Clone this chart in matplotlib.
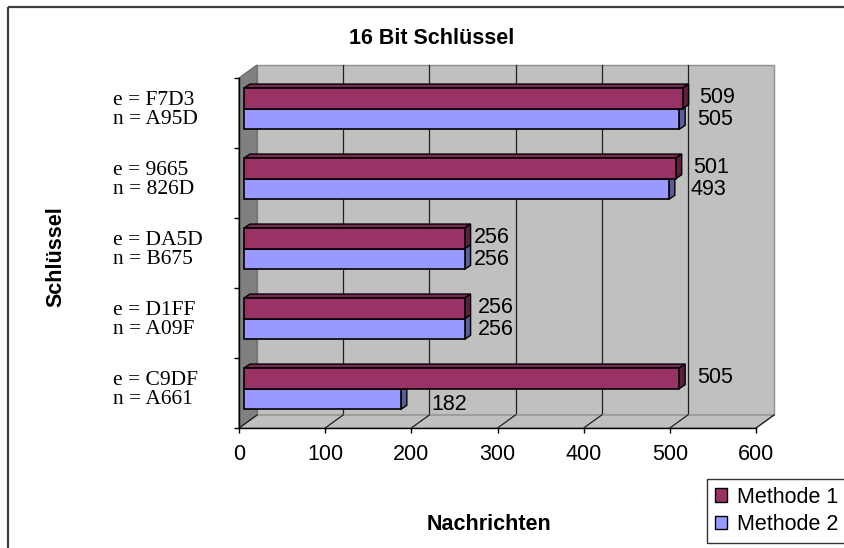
import matplotlib
matplotlib.use("Agg")
import matplotlib.pyplot as plt
from matplotlib.patches import Polygon, Rectangle, Patch
from matplotlib.lines import Line2D
import matplotlib.transforms as mtransforms

# ---------------- data ----------------
categories = ["e = F7D3\nn = A95D", "e = 9665\nn = 826D", "e = DA5D\nn = B675",
              "e = D1FF\nn = A09F", "e = C9DF\nn = A661"]
methode1 = [509, 501, 256, 256, 505]
methode2 = [505, 493, 256, 256, 182]
series_names = ["Methode 1", "Methode 2"]
x_ticks = [0, 100, 200, 300, 400, 500, 600]
title = "16 Bit Schlüssel"
x_title = "Nachrichten"
y_title = "Schlüssel"

# ---------------- style / layout ----------------
W, H = 845, 548
RED, RED_TOP, RED_SIDE = "#993366", "#7a2952", "#5c1f3d"
BLUE, BLUE_TOP, BLUE_SIDE = "#9999ff", "#7a7acc", "#5c5c99"
WALL, SIDEWALL = "#c0c0c0", "#808080"
FS = 15.5
SANS = "Liberation Sans"
SERIF = "Liberation Serif"
label_dx = [[22, 23], [22, 27], [14, 14], [18, 18], [23, 36]]
label_dy = [[4, 3], [4, 3], [4, 3], [4, 3], [4, -2]]

fig = plt.figure(figsize=(W / 100, H / 100), dpi=100)
fig.patch.set_facecolor("white")

# outer chart border
fig.add_artist(Rectangle((8 / W, 1 - 7 / H), 1.0, -1.2, transform=fig.transFigure,
                         fill=False, ec="#404040", lw=1.6))

ax_l, ax_r, ax_t, ax_b = 239, 756, 78, 428
ax = fig.add_axes([ax_l / W, 1 - ax_b / H, (ax_r - ax_l) / W, (ax_b - ax_t) / H])
ax.set_xlim(0, 600)
ax.set_ylim(0, 5)
ax.patch.set_visible(False)
for s in ["top", "right"]:
    ax.spines[s].set_visible(False)
for s in ["left", "bottom"]:
    ax.spines[s].set_color("black")
    ax.spines[s].set_linewidth(1.0)
    ax.spines[s].set_zorder(20)

ux = 600 / (ax_r - ax_l)
uy = 5 / (ax_b - ax_t)


def P(x, y, dxp=0.0, dyp=0.0):
    return (x + dxp * ux, y + dyp * uy)


DX, DY = 18, 13  # depth of the 3D box in pixels

# back wall
ax.add_patch(Polygon([P(0, 0, DX, DY), P(600, 0, DX, DY), P(600, 5, DX, DY), P(0, 5, DX, DY)],
                     closed=True, fc=WALL, ec="#909090", lw=1.0, clip_on=False, zorder=0))
# floor
ax.add_patch(Polygon([P(0, 0), P(600, 0), P(600, 0, DX, DY), P(0, 0, DX, DY)],
                     closed=True, fc=WALL, ec="#909090", lw=1.0, clip_on=False, zorder=0.5))
# left wall
ax.add_patch(Polygon([P(0, 0), P(0, 5), P(0, 5, DX, DY), P(0, 0, DX, DY)],
                     closed=True, fc=SIDEWALL, ec="#707070", lw=1.0, clip_on=False, zorder=0.6))
# gridlines on back wall and floor
for v in x_ticks:
    if 0 < v < 600:
        xs, ys = zip(P(v, 0, DX, DY), P(v, 5, DX, DY))
        ax.add_line(Line2D(xs, ys, color="#202020", lw=0.9, clip_on=False, zorder=0.4))
    xs, ys = zip(P(v, 0), P(v, 0, DX, DY))
    ax.add_line(Line2D(xs, ys, color="#202020", lw=0.9, clip_on=False, zorder=0.7))

# bars
BH = 0.295
CEN = 0.51
FX, FY = 5, 3.6     # bar front plane offset (px)
BDX, BDY = 6, 4     # bar depth (px)
bar_off = ax.transData + mtransforms.ScaledTranslation(FX / 100, FY / 100, fig.dpi_scale_trans)

n = len(categories)
for k in range(n):
    i = n - 1 - k
    specs = [(methode2[k], i + CEN - BH, BLUE, BLUE_TOP, BLUE_SIDE),
             (methode1[k], i + CEN, RED, RED_TOP, RED_SIDE)]
    for v, y0, fc, tc, sc in specs:
        yt = y0 + BH
        # top face
        ax.add_patch(Polygon([P(0, yt), P(v, yt), P(v, yt, BDX, BDY), P(0, yt, BDX, BDY)],
                             closed=True, fc=tc, ec="black", lw=1.0, transform=bar_off,
                             clip_on=False, zorder=3))
        # side face
        ax.add_patch(Polygon([P(v, y0), P(v, yt), P(v, yt, BDX, BDY), P(v, y0, BDX, BDY)],
                             closed=True, fc=sc, ec="black", lw=1.0, transform=bar_off,
                             clip_on=False, zorder=3))
        # front face
        ax.barh(y0, v, height=BH, left=0, align="edge", color=fc, edgecolor="black",
                linewidth=1.2, transform=bar_off, clip_on=False, zorder=4)

# value labels
for k in range(n):
    i = n - 1 - k
    for j, (vals, yc) in enumerate([(methode1, i + CEN + BH / 2), (methode2, i + CEN - BH / 2)]):
        v = vals[k]
        ax.annotate(str(v), xy=(v, yc), xytext=(label_dx[k][j], label_dy[k][j]),
                    textcoords="offset pixels", ha="left", va="center",
                    fontsize=FS, family=SANS, color="black", zorder=10,
                    annotation_clip=False)

# axes ticks
ax.set_xticks(x_ticks)
ax.set_xticklabels([str(t) for t in x_ticks], fontsize=FS, family=SANS)
ax.tick_params(axis="x", direction="out", length=3.6, width=1.0, pad=8)
ax.set_yticks(range(n + 1))
ax.set_yticklabels([])
ax.tick_params(axis="y", direction="out", length=3.6, width=1.0)

# category labels
bt = mtransforms.blended_transform_factory(fig.transFigure, ax.transData)
for k, lab in enumerate(categories):
    i = n - 1 - k
    ax.text(113 / W, i + 1 - 32 / 70, lab, transform=bt, ha="left", va="center",
            fontsize=FS, family=SERIF, linespacing=1.0)

# titles
fig.text(432 / W, 1 - 38 / H, title, ha="center", va="center", fontsize=FS,
         family=SANS, fontweight="bold")
fig.text(489 / W, 1 - 524 / H, x_title, ha="center", va="center", fontsize=FS,
         family=SANS, fontweight="bold")
fig.text(56 / W, 1 - 257 / H, y_title, ha="center", va="center", fontsize=FS,
         family=SANS, fontweight="bold", rotation=90)

# legend
handles = [Patch(fc=RED, ec="black", lw=1.0), Patch(fc=BLUE, ec="black", lw=1.0)]
leg = fig.legend(handles, series_names, loc="upper left",
                 bbox_to_anchor=(707 / W, 1 - 479 / H), borderaxespad=0,
                 prop={"family": SANS, "size": FS}, frameon=True, fancybox=False,
                 handlelength=0.6, handleheight=0.6, handletextpad=0.45,
                 labelspacing=0.3, borderpad=0.35)
leg.get_frame().set_edgecolor("black")
leg.get_frame().set_linewidth(1.0)

fig.savefig("out.png", dpi=100)
